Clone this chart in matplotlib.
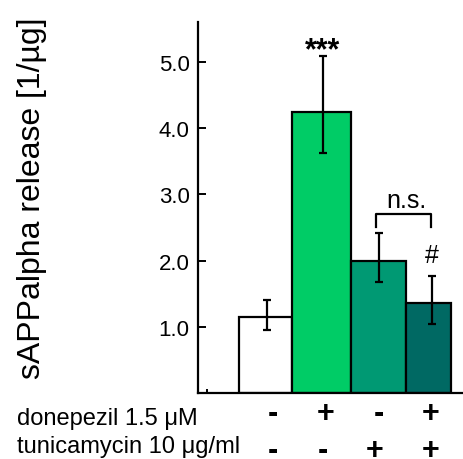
import matplotlib
matplotlib.use("Agg")
import matplotlib.pyplot as plt
from matplotlib.transforms import blended_transform_factory

plt.rcParams['font.family'] = ['Liberation Sans', 'DejaVu Sans']

# Data
groups = ["control", "donepezil", "tunicamycin", "donepezil + tunicamycin"]
means = [1.15, 4.24, 2.00, 1.36]
err_low = [0.195, 0.61, 0.32, 0.32]
err_high = [0.25, 0.85, 0.41, 0.40]
donepezil = ["-", "+", "-", "+"]
tunicamycin = ["-", "-", "+", "+"]
yticks = [1.0, 2.0, 3.0, 4.0, 5.0]

# Layout (x in axis units)
lefts = [41, 94, 153, 208]
widths = [53, 59, 55, 45]
err_x = [69, 124.7, 181, 234]
colors = ["white", "#00CC66", "#009973", "#006963"]

fig = plt.figure(figsize=(4.64, 4.60), dpi=100)
ax = fig.add_axes([198 / 464, 66 / 460, 266 / 464, 371 / 460])

ax.bar(lefts, means, width=widths, align="edge", color=colors,
       edgecolor="black", linewidth=1.6, zorder=2)
ax.errorbar(err_x, means, yerr=[err_low, err_high], fmt="none",
            ecolor="black", elinewidth=1.6, capsize=3, capthick=1.6, zorder=3)

ax.set_xlim(0, 266)
ax.set_ylim(0, 5.6)
ax.set_yticks(yticks)
ax.set_yticklabels([f"{t:.1f}" for t in yticks], fontsize=16)
ax.tick_params(axis="y", direction="in", length=6, width=1.4, pad=6)
ax.set_xticks([9])
ax.set_xticklabels([""])
ax.tick_params(axis="x", direction="in", length=3, width=1.4)
for side in ["top", "right"]:
    ax.spines[side].set_visible(False)
for side in ["left", "bottom"]:
    ax.spines[side].set_linewidth(1.6)
ax.set_ylabel("sAPPalpha release [1/\u00b5g]", fontsize=23)
ax.yaxis.set_label_coords(-0.568, 0.527)

# Significance markers
ax.text(err_x[1], 5.18, "***", ha="center", va="center", fontsize=22,
        fontweight="bold")
ax.plot([178, 178, 233, 233], [2.5, 2.7, 2.7, 2.5], color="black", lw=1.6,
        clip_on=False)
ax.text(208.5, 2.91, "n.s.", ha="center", va="center", fontsize=18)
ax.text(err_x[3], 2.08, "#", ha="center", va="center", fontsize=18)

# Treatment table under the axis
tr = blended_transform_factory(ax.transData, fig.transFigure)
fig.text(17 / 464, 1 - 425 / 460, "donepezil 1.5 \u03bcM", ha="left",
         va="baseline", fontsize=17)
fig.text(17 / 464, 1 - 453 / 460, "tunicamycin 10 \u03bcg/ml", ha="left",
         va="baseline", fontsize=17)
row1_x = [74.5, 128, 180.5, 233]
row2_x = [75, 124.5, 176.5, 233]
for x, s in zip(row1_x, donepezil):
    ax.text(x, 1 - 414 / 460, s, transform=tr, ha="center", va="center",
            fontsize=22, fontweight="bold")
for x, s in zip(row2_x, tunicamycin):
    ax.text(x, 1 - 451 / 460, s, transform=tr, ha="center", va="center",
            fontsize=22, fontweight="bold")

fig.savefig("out.png", dpi=100)
